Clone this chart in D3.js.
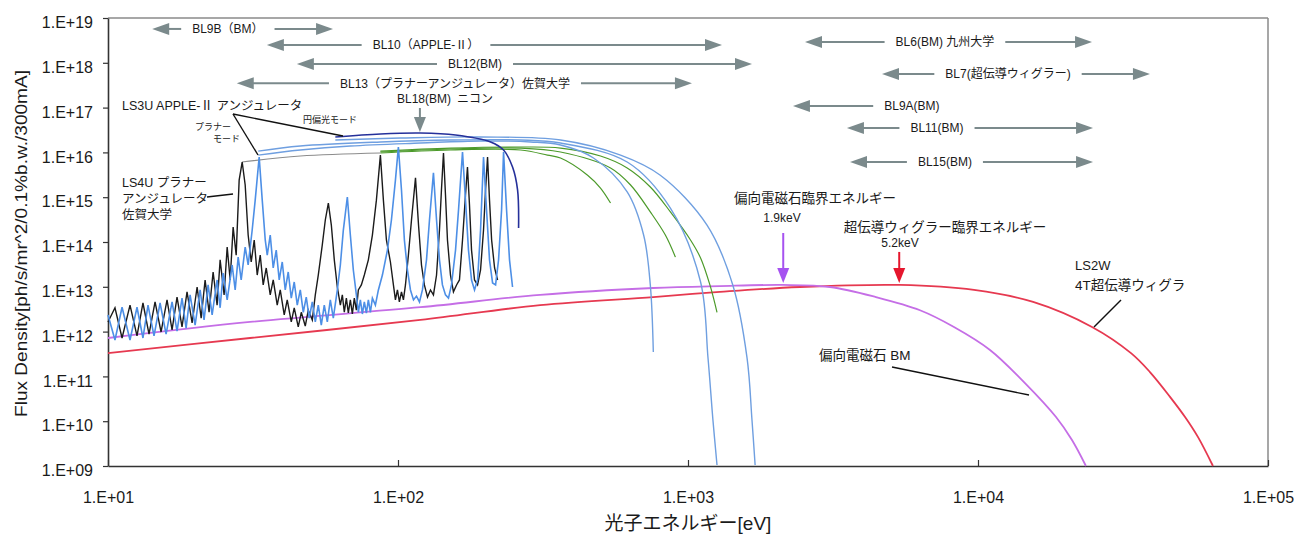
<!DOCTYPE html>
<html>
<head>
<meta charset="utf-8">
<script src="https://cdn.jsdelivr.net/npm/d3@7.9.0/dist/d3.min.js"></script>
<style>
  body { margin: 0; background: #fff; }
  text { font-family: "Liberation Sans", "Noto Sans CJK JP", sans-serif; fill: #1a1a1a; }
</style>
</head>
<body>
<svg id="chart" width="1294" height="534"></svg>
<script>
// axis ticks
const xTicks = [1e1, 1e2, 1e3, 1e4, 1e5];
const xTickLabels = ["1.E+01", "1.E+02", "1.E+03", "1.E+04", "1.E+05"];
const yTicks = [1e9, 1e10, 1e11, 1e12, 1e13, 1e14, 1e15, 1e16, 1e17, 1e18, 1e19];
const yTickLabels = ["1.E+09", "1.E+10", "1.E+11", "1.E+12", "1.E+13", "1.E+14", "1.E+15", "1.E+16", "1.E+17", "1.E+18", "1.E+19"];

// [photon energy eV, flux density]
const ls2wWiggler = [[10,3.3e11],[30.9,7.2e11],[119.5,1.82e12],[309,3.9e12],[759,5.9e12],[1288,7.7e12],[2432,9.9e12],[5380,1.1e13],[9686,8.5e12],[15490,4.6e12],[24720,1.27e12],[33700,3.3e11],[39170,1.25e11],[45930,3.5e10],[51760,1.24e10],[57380,4.4e9],[64600,1.0e9]];
const bendingMagnet = [[10,7.2e11],[30.9,1.64e12],[119.5,3.5e12],[309,6.6e12],[759,9.4e12],[1288,1.04e13],[2126,1.1e13],[3088,9.9e12],[4448,5.9e12],[6310,3.0e12],[8262,1.27e12],[11000,3.9e11],[14520,7.1e10],[18580,1.24e10],[21090,3.8e9],[23560,1.0e9]];

const circularMode = [[60.8,2.21e16],[86.96,2.58e16],[119.5,2.71e16],[157.9,2.45e16],[208.6,1.71e16],[231.2,1.13e16],[248.3,4.7e15],[258.4,1.45e15],[260.5,2.05e14]];
const blueEnvA = [[32.96,8.7e15],[46.03,1.13e16],[68.5,1.39e16],[119.5,1.62e16],[192.6,1.8e16],[286.5,1.71e16],[363.4,1.46e16],[472.1,7.5e15],[617,1.31e15],[703,1.43e14],[741.4,1.1e13],[759.3,3.5e11]];
const blueEnvB = [[32.96,1.07e16],[46.03,1.39e16],[86.96,1.71e16],[151.7,1.89e16],[264.6,1.89e16],[363.4,1.62e16],[617,6.1e15],[869.5,5.7e14],[1105,1.28e13],[1172,2.6e11],[1219,1.06e10],[1259,1.05e9]];
const blueEnvC = [[60.8,1.89e16],[102,2.09e16],[192.6,2.21e16],[363.4,1.89e16],[585.3,8.7e15],[802.6,3.1e15],[1163,2.39e14],[1427,1.1e13],[1598,2.6e11],[1662,1.06e10],[1704,1.05e9]];
const greenEnvA = [[86.96,9.7e15],[151.7,1.13e16],[264.6,1.13e16],[327.6,8.7e15],[363.4,7.5e15],[450.6,3.1e15],[499.2,1.6e15],[540.6,7.4e14]];
const greenEnvB = [[86.96,1.02e16],[151.7,1.19e16],[264.6,1.25e16],[363.4,1.02e16],[540.6,4.5e15],[633.8,1.87e15],[741.4,4.7e14],[835.4,1.43e14],[904.9,4.6e13]];
const greenEnvC = [[86.96,1.07e16],[151.7,1.25e16],[264.6,1.32e16],[363.4,1.25e16],[499.2,8.3e15],[617,4.5e15],[741.4,1.69e15],[869.5,4.7e14],[1020,1.11e14],[1105,4.4e13],[1190,1.1e13],[1259,2.7e12]];
const ls4uEnvelope = [[28.97,6.1e15],[46.03,8.3e15],[86.96,9.7e15]];

// LS4U planar undulator spectrum (black)
const ls4uSpectrum = [[10,1.64e12],[10.57,3.4e12],[11.18,7.2e11],[11.91,3.9e12],[12.59,8.0e11],[13.2,4.35e12],[13.85,8.8e11],[14.53,4.6e12],[15.24,9.8e11],[15.98,5.1e12],[16.63,1.09e12],[17.3,5.9e12],[18.0,1.27e12],[18.73,7.7e12],[19.5,1.56e12],[20.29,9.9e12],[20.95,2.0e12],[21.62,1.42e13],[22.31,2.7e12],[23.04,2.14e13],[23.78,3.9e12],[24.36,4.0e13],[25.14,6.6e12],[25.76,7.7e13],[26.38,1.42e13],[27.01,2.16e14],[27.67,5.1e13],[28.33,2.4e15],[29.02,6.1e15],[29.72,1.87e15],[30.43,1.43e14],[31.18,3.58e13],[31.93,1.11e14],[32.7,1.83e13],[33.49,5.1e13],[34.29,1.1e13],[35.13,2.63e13],[36.26,6.6e12],[37.13,1.42e13],[38.33,3.9e12],[39.26,8.5e12],[40.52,2.35e12],[41.5,5.1e12],[42.85,1.64e12],[43.87,3.4e12],[45.29,1.27e12],[46.4,2.7e12],[47.89,1.33e12],[49.04,3.0e12],[50.64,1.82e12],[51.86,6.6e12],[53.1,1.83e13],[54.82,8.6e13],[56.15,3.1e14],[57.52,7.4e14],[58.9,2.39e14],[60.3,4.0e13],[61.77,9.9e12],[63.27,3.9e12],[64.28,6.6e12],[65.29,2.7e12],[66.36,5.6e12],[67.41,2.6e12],[68.5,5.1e12],[69.6,2.47e12],[70.69,5.6e12],[71.85,3.0e12],[72.99,8.5e12],[74.76,1.1e13],[76.54,1.83e13],[79.03,4.0e13],[81.6,1.43e14],[84.24,8.6e14],[86.96,8.7e15],[89.05,8.6e14],[91.21,1.11e14],[94.16,3.58e13],[96.42,1.1e13],[97.98,5.1e12],[99.55,8.5e12],[101.1,4.6e12],[102.8,7.7e12],[104.4,5.1e12],[106.1,1.1e13],[108.6,5.1e13],[111.3,3.1e14],[114.9,2.7e15],[117.7,2.39e14],[120.5,3.07e13],[123.3,1.1e13],[126.4,5.9e12],[129.4,8.5e12],[132.5,6.6e12],[135.8,1.83e13],[139.0,1.85e14],[141.2,1.45e15],[143.5,9.7e15],[145.8,1.12e15],[148.1,1.11e14],[151.7,1.83e13],[155.3,7.7e12],[159.2,1.1e13],[162.9,1.42e13],[166.9,1.11e14],[170.9,1.12e15],[173.6,4.7e15],[176.4,6.7e14],[179.3,6.6e13],[183.6,1.42e13],[188.1,1.1e13],[192.6,2.37e13],[197.2,1.85e14],[200.4,1.45e15],[203.6,7.9e15],[206.8,8.6e14],[210.3,1.11e14],[215.3,2.63e13],[220.5,1.42e13]];

// LS3U APPLE-II planar mode spectrum (light blue)
const ls3uSpectrum = [[10,2.35e12],[10.57,6.5e11],[11.18,3.5e12],[11.91,6.5e11],[12.59,3.5e12],[13.2,7.2e11],[13.74,3.9e12],[14.41,8.0e11],[15.12,4.35e12],[15.86,8.8e11],[16.63,4.6e12],[17.3,1.03e12],[18.0,5.6e12],[18.59,1.2e12],[19.19,6.6e12],[19.97,1.4e12],[20.78,8.5e12],[21.44,1.82e12],[22.14,1.1e13],[22.86,2.35e12],[23.78,1.42e13],[24.36,3.4e12],[24.94,2.03e13],[25.76,5.1e12],[26.8,3.07e13],[27.45,8.5e12],[28.11,4.6e13],[28.79,1.42e13],[29.72,7.7e13],[30.43,3.07e13],[31.42,1.85e14],[32.18,8.6e14],[33.21,7.9e15],[34.03,8.6e14],[34.85,1.11e14],[35.41,5.1e13],[36.26,1.43e14],[37.13,2.63e13],[38.03,6.6e13],[38.94,1.42e13],[39.89,3.58e13],[40.85,8.5e12],[41.83,2.14e13],[42.85,5.6e12],[43.87,1.28e13],[44.94,3.9e12],[46.03,8.5e12],[47.14,2.7e12],[48.27,5.9e12],[49.42,2.0e12],[50.64,4.6e12],[51.86,1.64e12],[53.1,3.9e12],[54.39,1.4e12],[55.69,3.9e12],[57.05,1.64e12],[58.43,5.1e12],[59.83,2.0e12],[61.77,8.5e12],[63.27,3.07e13],[64.79,1.85e14],[66.88,1.01e15],[68.5,1.43e14],[70.14,2.37e13],[71.85,6.6e12],[72.99,2.7e12],[74.17,5.1e12],[75.36,2.47e12],[76.54,4.6e12],[77.8,2.6e12],[79.03,5.1e12],[80.31,2.7e12],[81.6,5.6e12],[83.57,3.9e12],[85.58,8.5e12],[88.35,1.83e13],[91.94,6.6e13],[94.91,3.1e14],[97.98,2.4e15],[100.3,1.32e16],[102.8,1.45e15],[105.2,1.11e14],[107.8,2.37e13],[110.4,8.5e12],[113.1,5.1e12],[115.8,6.2e12],[118.6,4.6e12],[121.4,8.5e12],[125.4,4.0e13],[128.4,3.1e14],[132.5,3.5e15],[135.8,3.1e14],[139.0,4.0e13],[142.3,1.1e13],[145.8,6.6e12],[149.3,5.6e12],[152.9,1.1e13],[157.9,6.6e13],[161.7,5.2e14],[166.9,1.02e16],[170.9,8.6e14],[175.0,6.6e13],[179.3,1.42e13],[183.6,8.5e12],[188.1,1.42e13],[192.6,1.85e14],[197.2,7.9e15],[202.0,5.2e14],[206.8,4.0e13],[211.9,1.22e13],[217.0,1.1e13],[222.2,4.0e13],[227.6,5.2e14],[231.2,1.02e16],[236.8,5.2e14],[242.4,4.0e13],[248.3,9.9e12]];

// beamline energy ranges
const beamlineLabels = ["BL9B（BM）", "BL10（APPLE-Ⅱ）", "BL12(BM)", "BL13（プラナーアンジュレータ）佐賀大学", "BL6(BM) 九州大学", "BL7(超伝導ウィグラー)", "BL9A(BM)", "BL11(BM)", "BL15(BM)"];
const beamlineMin = [14.2, 35.3, 44.8, 27.8, 2532, 4667, 2301, 3532, 3620];
const beamlineMax = [59.7, 1310, 1662, 1032, 24730, 39170, null, 24930, 24930];
const beamlineLabelE = [25.9, 124.9, 184.3, 157.2, 7691, 12690, 5916, 7220, 7690];
const beamlineLevel = [5.7e18, 2.5e18, 9.4e17, 3.5e17, 2.9e18, 5.6e17, 1.09e17, 3.5e16, 6.1e15];

// marker arrows: [energy, flux at tail, flux at tip]
const bl18Arrow = [119, 9.8e16, 2.85e16];
const bmCriticalArrow = [2130, 1.59e14, 1.22e13];
const wigglerCriticalArrow = [5350, 6.0e13, 1.22e13];

const width = 1294, height = 534;
const margin = { top: 18, right: 26, bottom: 68, left: 108 };

const x = d3.scaleLog().domain([10, 1e5]).range([margin.left, width - margin.right]);
const y = d3.scaleLog().domain([1e9, 1e19]).range([height - margin.bottom, margin.top]);

const svg = d3.select('#chart');

// frame: top and right in grey
svg.append('line').attr('x1', x(10)).attr('x2', x(1e5)).attr('y1', y(1e19)).attr('y2', y(1e19))
  .attr('stroke', '#8a8a8a').attr('stroke-width', 1.5);
svg.append('line').attr('x1', x(1e5)).attr('x2', x(1e5)).attr('y1', y(1e19)).attr('y2', y(1e9))
  .attr('stroke', '#8a8a8a').attr('stroke-width', 1.5);

// axes
const yAxis = svg.append('g')
  .attr('transform', `translate(${margin.left},0)`)
  .call(d3.axisLeft(y).tickValues(yTicks).tickFormat((d, i) => yTickLabels[i]).tickSize(5).tickSizeOuter(0).tickPadding(10));
yAxis.selectAll('text').attr('font-size', 16).attr('font-family', null).attr('dy', '0.6em');

const xAxis = svg.append('g')
  .attr('transform', `translate(0,${height - margin.bottom})`)
  .call(d3.axisBottom(x).tickValues(xTicks).tickFormat((d, i) => xTickLabels[i]).tickSize(-6).tickSizeOuter(0).tickPadding(26));
xAxis.selectAll('text').attr('font-size', 16).attr('font-family', null);

[yAxis, xAxis].forEach(a => {
  a.select('.domain').attr('stroke', '#333').attr('stroke-width', 1.6);
  a.selectAll('.tick line').attr('stroke', '#333').attr('stroke-width', 1.2);
});

// axis titles
svg.append('text')
  .attr('transform', `translate(21,${(70 + 417) / 2}) rotate(-90)`)
  .attr('text-anchor', 'middle').attr('dy', '0.35em')
  .attr('font-size', 17)
  .attr('textLength', 347).attr('lengthAdjust', 'spacingAndGlyphs')
  .text('Flux Density[ph/s/mr^2/0.1%b.w./300mA]');

svg.append('text')
  .attr('x', x(1e3)).attr('y', 530)
  .attr('text-anchor', 'middle').attr('font-size', 19)
  .text('光子エネルギー[eV]');

// curves
const smooth = d3.line().x(d => x(d[0])).y(d => y(d[1])).curve(d3.curveCatmullRom.alpha(0.5));
const straight = d3.line().x(d => x(d[0])).y(d => y(d[1]));

const plot = svg.append('g').attr('fill', 'none');

plot.append('path').attr('d', smooth(ls2wWiggler)).attr('stroke', '#e63950').attr('stroke-width', 1.8);
plot.append('path').attr('d', smooth(bendingMagnet)).attr('stroke', '#c56ee6').attr('stroke-width', 1.8);

[greenEnvA, greenEnvB, greenEnvC].forEach(d => {
  plot.append('path').attr('d', smooth(d)).attr('stroke', '#4c9a2a').attr('stroke-width', 1.2);
});
[blueEnvA, blueEnvB, blueEnvC].forEach(d => {
  plot.append('path').attr('d', smooth(d)).attr('stroke', '#6f9fe0').attr('stroke-width', 1.4);
});
plot.append('path').attr('d', smooth(ls4uEnvelope)).attr('stroke', '#8c8c8c').attr('stroke-width', 1.2);
plot.append('path').attr('d', smooth(circularMode)).attr('stroke', '#25309a').attr('stroke-width', 1.6);

plot.append('path').attr('d', straight(ls4uSpectrum)).attr('stroke', '#1b1b1b').attr('stroke-width', 1.4);
plot.append('path').attr('d', straight(ls3uSpectrum)).attr('stroke', '#4d8fe6').attr('stroke-width', 1.6);

// beamline range arrows
const grey = '#7b8a8c';
const ann = svg.append('g');
function arrowHead(px, py, dir) {
  // dir: -1 left, 1 right, 2 down
  let pts;
  if (dir === 2) pts = [[px, py], [px - 6, py - 15], [px + 6, py - 15]];
  else pts = [[px, py], [px - dir * 17, py - 6], [px - dir * 17, py + 6]];
  return pts.map(p => p.join(',')).join(' ');
}
beamlineLabels.forEach((label, i) => {
  const yy = y(beamlineLevel[i]);
  const t = ann.append('text')
    .attr('x', x(beamlineLabelE[i])).attr('y', yy).attr('dy', '0.36em')
    .attr('text-anchor', 'middle').attr('font-size', 12)
    .text(label);
  const w = t.node().getComputedTextLength();
  const gap = 11;
  const lx = x(beamlineMin[i]);
  ann.append('line').attr('x1', lx + 10).attr('x2', x(beamlineLabelE[i]) - w / 2 - gap)
    .attr('y1', yy).attr('y2', yy).attr('stroke', grey).attr('stroke-width', 2);
  ann.append('polygon').attr('points', arrowHead(lx, yy, -1)).attr('fill', grey);
  if (beamlineMax[i] !== null) {
    const rx = x(beamlineMax[i]);
    ann.append('line').attr('x1', x(beamlineLabelE[i]) + w / 2 + gap).attr('x2', rx - 10)
      .attr('y1', yy).attr('y2', yy).attr('stroke', grey).attr('stroke-width', 2);
    ann.append('polygon').attr('points', arrowHead(rx, yy, 1)).attr('fill', grey);
  }
});

function downArrow([e, f0, f1], color, w) {
  ann.append('line').attr('x1', x(e)).attr('x2', x(e)).attr('y1', y(f0)).attr('y2', y(f1) - 10)
    .attr('stroke', color).attr('stroke-width', w);
  ann.append('polygon').attr('points', arrowHead(x(e), y(f1), 2)).attr('fill', color);
}
downArrow(bl18Arrow, grey, 2);
downArrow(bmCriticalArrow, '#a652f0', 2);
downArrow(wigglerCriticalArrow, '#e5162d', 2);

// free text labels
const notes = [
  ["LS3U APPLE-Ⅱ アンジュレータ", 122, 110, 12.5, 'start'],
  ["円偏光モード", 303, 123, 9, 'start'],
  ["プラナー", 195, 130, 9, 'start'],
  ["モード", 213, 142, 9, 'start'],
  ["LS4U プラナー", 122, 187, 12.5, 'start'],
  ["アンジュレータ", 122, 203, 12.5, 'start'],
  ["佐賀大学", 122, 219, 12.5, 'start'],
  ["BL18(BM)\u2002ニコン", 397, 103, 12, 'start'],
  ["偏向電磁石臨界エネルギー", 815, 203, 13.5, 'middle'],
  ["1.9keV", 782, 222, 12, 'middle'],
  ["超伝導ウィグラー臨界エネルギー", 945, 232, 13.5, 'middle'],
  ["5.2keV", 900, 247, 12, 'middle'],
  ["LS2W", 1075, 270, 13, 'start'],
  ["4T超伝導ウィグラ", 1075, 290, 13.5, 'start'],
  ["偏向電磁石 BM", 819, 360, 13.5, 'start']
];
notes.forEach(([t, tx, ty, fs, anchor]) => {
  ann.append('text').attr('x', tx).attr('y', ty).attr('font-size', fs)
    .attr('text-anchor', anchor).text(t);
});

// leader lines
const leaders = [
  [[233, 114], [343, 136]],
  [[233, 114], [258, 155]],
  [[207, 197], [233, 194]],
  [[1121, 300], [1094, 327]],
  [[892, 367], [1029, 395]]
];
leaders.forEach(([a, b]) => {
  ann.append('line').attr('x1', a[0]).attr('y1', a[1]).attr('x2', b[0]).attr('y2', b[1])
    .attr('stroke', '#111').attr('stroke-width', 1.4);
});
</script>
</body>
</html>
